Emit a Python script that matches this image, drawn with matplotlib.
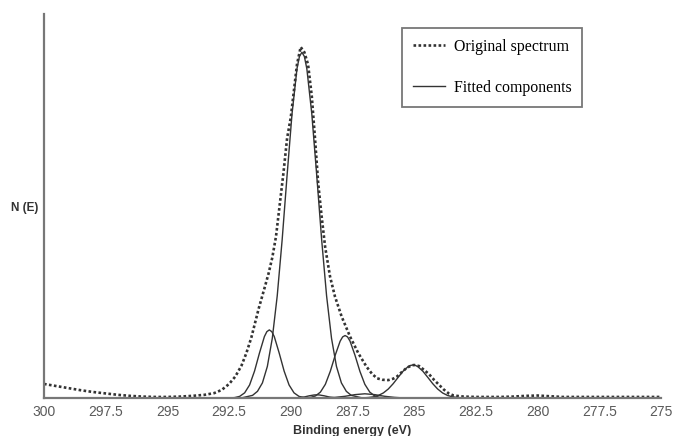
import matplotlib
matplotlib.use("Agg")
import matplotlib.pyplot as plt
from matplotlib.lines import Line2D

# original spectrum (binding energy in eV, normalised counts)
spec_e = [300.0, 299.5, 299.0, 298.5, 298.0, 297.5, 297.0, 296.5, 296.0, 295.5,
          295.0, 294.5, 294.0, 293.5, 293.1, 292.8, 292.5, 292.25, 292.0, 291.8,
          291.6, 291.3, 291.05, 290.9, 290.75, 290.6, 290.45, 290.3, 290.15, 290.0,
          289.9, 289.75, 289.6, 289.45, 289.3, 289.15, 289.02, 288.89, 288.75, 288.61,
          288.41, 288.21, 287.94, 287.6, 287.26, 286.93, 286.7, 286.5, 286.3, 286.05,
          285.85, 285.7, 285.5, 285.3, 285.1, 285.0, 284.8, 284.6, 284.4, 284.2,
          284.0, 283.8, 283.6, 283.4, 283.0, 282.5, 282.0, 281.5, 281.0, 280.5,
          280.0, 279.5, 279.0, 278.0, 277.0, 276.0, 275.0]
spec_n = [0.040, 0.034, 0.028, 0.022, 0.017, 0.013, 0.009, 0.006, 0.004, 0.003,
          0.003, 0.004, 0.006, 0.009, 0.014, 0.023, 0.040, 0.061, 0.092, 0.128,
          0.172, 0.255, 0.317, 0.355, 0.40, 0.46, 0.55, 0.64, 0.74, 0.80,
          0.86, 0.95, 1.0, 0.985, 0.95, 0.86, 0.74, 0.612, 0.517, 0.431,
          0.346, 0.289, 0.232, 0.175, 0.127, 0.089, 0.068, 0.056, 0.052, 0.051,
          0.055, 0.061, 0.074, 0.086, 0.093, 0.094, 0.091, 0.080, 0.068, 0.052,
          0.038, 0.024, 0.013, 0.007, 0.004, 0.003, 0.003, 0.003, 0.004, 0.006,
          0.007, 0.005, 0.003, 0.003, 0.003, 0.003, 0.003]

# fitted components
c1_e = [292.47, 292.27, 292.07, 291.87, 291.67, 291.47, 291.27, 291.07, 290.97, 290.87,
        290.77, 290.67, 290.47, 290.27, 290.07, 289.87, 289.67, 289.47, 289.27]
c1_n = [0.0, 0.0012, 0.0047, 0.0147, 0.0371, 0.0766, 0.128, 0.175, 0.189, 0.194,
        0.189, 0.175, 0.128, 0.0766, 0.0371, 0.0147, 0.0047, 0.0012, 0.0]

main_e = [292.35, 291.95, 291.55, 291.35, 291.15, 290.95, 290.75, 290.55, 290.35, 290.15,
          289.95, 289.75, 289.65, 289.55, 289.45, 289.35, 289.15, 288.95, 288.75, 288.55,
          288.35, 288.15, 287.95, 287.75, 287.55, 287.15, 286.75]
main_n = [0.0, 0.001, 0.0075, 0.019, 0.043, 0.090, 0.170, 0.291, 0.451, 0.635,
          0.810, 0.938, 0.973, 0.985, 0.973, 0.938, 0.810, 0.635, 0.451, 0.291,
          0.170, 0.090, 0.043, 0.019, 0.0075, 0.001, 0.0]

c3_e = [289.4, 289.2, 289.0, 288.8, 288.6, 288.4, 288.2, 288.0, 287.9, 287.8,
        287.7, 287.6, 287.4, 287.2, 287.0, 286.8, 286.6, 286.4, 286.2]
c3_n = [0.0004, 0.0017, 0.0059, 0.0168, 0.039, 0.076, 0.122, 0.162, 0.174, 0.178,
        0.174, 0.162, 0.122, 0.076, 0.039, 0.0168, 0.0059, 0.0017, 0.0004]

c4_e = [287.45, 287.05, 286.85, 286.65, 286.45, 286.25, 286.05, 285.85, 285.65, 285.45,
        285.25, 285.15, 285.05, 284.95, 284.85, 284.65, 284.45, 284.25, 284.05, 283.85,
        283.65, 283.45, 283.25, 283.05, 282.65]
c4_n = [0.0, 0.0005, 0.0014, 0.0034, 0.0073, 0.0144, 0.0256, 0.0409, 0.0589, 0.0764,
        0.0892, 0.0928, 0.094, 0.0928, 0.0892, 0.0764, 0.0589, 0.0409, 0.0256, 0.0144,
        0.0073, 0.0034, 0.0014, 0.0005, 0.0]

c5_e = [289.75, 289.45, 289.25, 289.05, 288.95, 288.85, 288.65, 288.45, 288.15]
c5_n = [0.0, 0.003, 0.0063, 0.0087, 0.009, 0.0087, 0.0063, 0.003, 0.0]

c6_e = [288.6, 288.2, 287.8, 287.4, 287.0, 286.6, 286.2, 285.8, 285.4]
c6_n = [0.0, 0.0018, 0.0049, 0.0096, 0.012, 0.0096, 0.0049, 0.0018, 0.0]

components = [(c1_e, c1_n), (main_e, main_n), (c3_e, c3_n), (c4_e, c4_n), (c5_e, c5_n), (c6_e, c6_n)]

x_ticks = [300, 297.5, 295, 292.5, 290, 287.5, 285, 282.5, 280, 277.5, 275]
x_ticklabels = ["300", "297.5", "295", "292.5", "290", "287.5", "285", "282.5", "280", "277.5", "275"]

plt.rcParams['font.family'] = ['Liberation Sans Narrow', 'Liberation Sans', 'DejaVu Sans']

fig = plt.figure(figsize=(6.75, 4.36), dpi=100)
ax = fig.add_axes([44 / 675, 1 - 398 / 436, 617 / 675, 384 / 436])

line_col = "#333333"
dots = (0, (1, 0.9))
for e, n in components:
    ax.plot(e, n, color=line_col, lw=1.0, solid_joinstyle="round")
ax.plot(spec_e, spec_n, color=line_col, lw=1.9, linestyle=dots)

ax.set_xlim(300, 275)
ax.set_ylim(0, 384 / 351)
ax.set_xticks(x_ticks)
ax.set_xticklabels(x_ticklabels)
ax.set_yticks([])
ax.tick_params(axis="x", length=0, pad=5, labelsize=10, labelcolor="#5a5a5a")

for s in ["top", "right"]:
    ax.spines[s].set_visible(False)
for s in ["left", "bottom"]:
    ax.spines[s].set_color("#777777")
    ax.spines[s].set_linewidth(1.6)

ax.set_xlabel("Binding energy (eV)", fontsize=9, fontweight="bold", color="#333333",
              family=["Liberation Sans", "DejaVu Sans"], labelpad=4)
ax.text(-0.032, 0.495, "N (E)", transform=ax.transAxes, ha="center", va="center",
        fontsize=8.5, fontweight="bold", color="#333333", family=["Liberation Sans", "DejaVu Sans"])

handles = [Line2D([], [], color=line_col, lw=1.9, linestyle=dots),
           Line2D([], [], color=line_col, lw=1.0)]
leg = ax.legend(handles, ["Original spectrum", "Fitted components"],
                loc="upper right", bbox_to_anchor=(0.872, 0.964),
                prop={"family": ["Liberation Serif", "DejaVu Serif"], "size": 11.4},
                frameon=True, fancybox=False, handlelength=2.0, handletextpad=0.55,
                labelspacing=1.6, borderpad=0.68, borderaxespad=0)
leg.get_frame().set_edgecolor("#555555")
leg.get_frame().set_linewidth(1.3)

fig.savefig("out.png", dpi=100)
